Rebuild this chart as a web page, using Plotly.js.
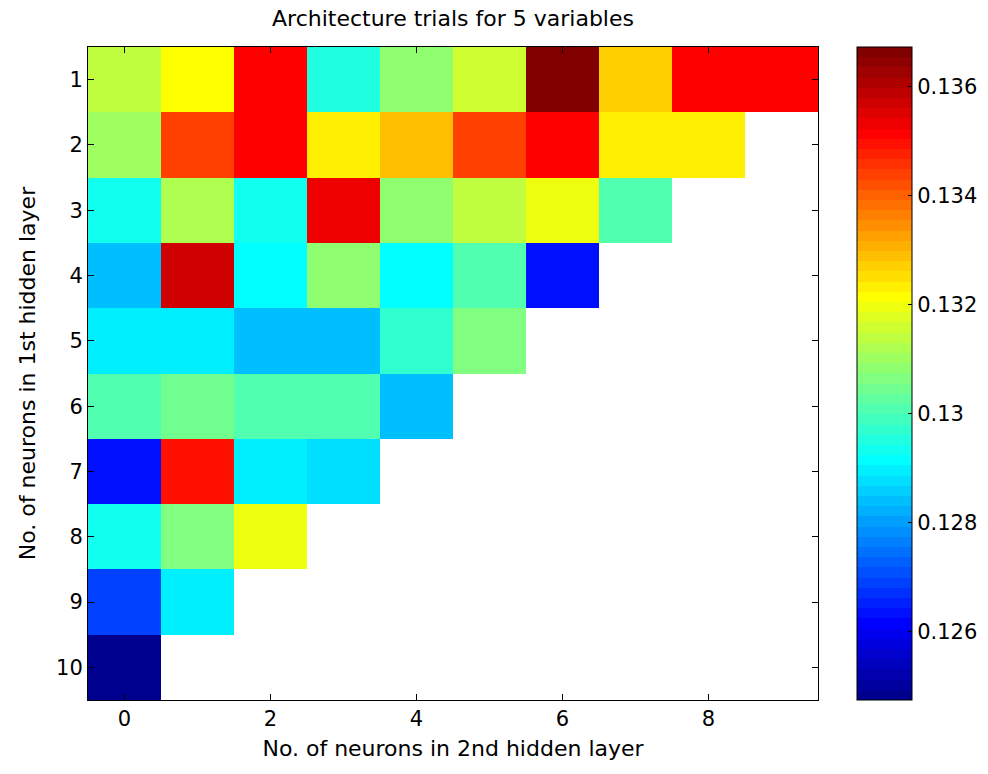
<!DOCTYPE html>
<html>
<head>
<meta charset="utf-8">
<script src="https://cdn.plot.ly/plotly-3.0.1.min.js"></script>
<style>html,body{margin:0;padding:0;background:#fff;}#chart{width:988px;height:774px;}</style>
</head>
<body>
<div id="chart"></div>
<script>
// Neurons in 2nd hidden layer (columns) and 1st hidden layer (rows)
var secondLayer = [0, 1, 2, 3, 4, 5, 6, 7, 8, 9];
var firstLayer = [1, 2, 3, 4, 5, 6, 7, 8, 9, 10];

// Error values per row (null = not tried)
var row1  = [0.13148, 0.13215, 0.13505, 0.12961, 0.13092, 0.13167, 0.13672, 0.13268, 0.13505, 0.13518];
var row2  = [0.13110, 0.13432, 0.13522, 0.13232, 0.13290, 0.13432, 0.13522, 0.13232, 0.13232, null];
var row3  = [0.12942, 0.13121, 0.12942, 0.13540, 0.13074, 0.13130, 0.13186, 0.13000, null, null];
var row4  = [0.12849, 0.13560, 0.12906, 0.13074, 0.12906, 0.13017, 0.12643, null, null, null];
var row5  = [0.12887, 0.12887, 0.12849, 0.12849, 0.12978, 0.13056, null, null, null, null];
var row6  = [0.13017, 0.13037, 0.13000, 0.13000, 0.12849, null, null, null, null, null];
var row7  = [0.12625, 0.13485, 0.12887, 0.12868, null, null, null, null, null, null];
var row8  = [0.12942, 0.13056, 0.13186, null, null, null, null, null, null, null];
var row9  = [0.12699, 0.12887, null, null, null, null, null, null, null, null];
var row10 = [0.12475, null, null, null, null, null, null, null, null, null];

var xTickVals = [0, 2, 4, 6, 8];
var xTickText = ['0', '2', '4', '6', '8'];
var yTickVals = [1, 2, 3, 4, 5, 6, 7, 8, 9, 10];
var yTickText = ['1', '2', '3', '4', '5', '6', '7', '8', '9', '10'];
var cbTickVals = [0.126, 0.128, 0.130, 0.132, 0.134, 0.136];
var cbTickText = ['0.126', '0.128', '0.13', '0.132', '0.134', '0.136'];

var z = [row1, row2, row3, row4, row5, row6, row7, row8, row9, row10];

// MATLAB jet(64) as a stepped colorscale
function jet64() {
  var n = 16, u = [];
  for (var k = 1; k <= n; k++) u.push(k / n);
  for (var k2 = 0; k2 < n - 1; k2++) u.push(1);
  for (var k3 = n; k3 >= 1; k3--) u.push(k3 / n);
  function at(idx) { var j = idx - 1; return (j >= 0 && j < u.length) ? u[j] : 0; }
  var scale = [];
  for (var i = 1; i <= 64; i++) {
    var r = at(i - 24), g = at(i - 8), b = at(i + 8);
    var c = 'rgb(' + Math.round(r * 255) + ',' + Math.round(g * 255) + ',' + Math.round(b * 255) + ')';
    scale.push([(i - 1) / 64, c]);
    scale.push([i / 64, c]);
  }
  return scale;
}

var fontFam = 'DejaVu Sans, Liberation Sans, Arial, sans-serif';

var trace = {
  type: 'heatmap',
  x: secondLayer,
  y: firstLayer,
  z: z,
  colorscale: jet64(),
  hoverongaps: false,
  xgap: 0, ygap: 0,
  colorbar: {
    thickness: 55,
    len: 1, lenmode: 'fraction',
    x: 1.0534, xanchor: 'left', xpad: 0,
    y: 0.5, yanchor: 'middle', ypad: 0,
    outlinewidth: 1, outlinecolor: '#000',
    ticks: 'inside', ticklen: 4, tickcolor: '#000',
    tickvals: cbTickVals, ticktext: cbTickText,
    tickfont: {family: fontFam, size: 21, color: '#000'}
  }
};

var layout = {
  width: 988, height: 774,
  margin: {l: 88, r: 170, t: 47, b: 74, pad: 0, autoexpand: false},
  paper_bgcolor: '#fff', plot_bgcolor: '#fff',
  font: {family: fontFam, color: '#000'},
  title: {text: 'Architecture trials for 5 variables', x: 0.5, xref: 'paper', y: 0.976, yanchor: 'middle',
          font: {family: fontFam, size: 22, color: '#000'}},
  xaxis: {
    range: [-0.5, 9.5], tickvals: xTickVals, ticktext: xTickText,
    ticks: 'inside', ticklen: 6, tickcolor: '#000', mirror: 'ticks',
    showline: true, linecolor: '#000', linewidth: 1, showgrid: false, zeroline: false,
    tickfont: {family: fontFam, size: 21, color: '#000'},
    title: {text: 'No. of neurons in 2nd hidden layer', font: {family: fontFam, size: 22, color: '#000'}, standoff: 10}
  },
  yaxis: {
    range: [10.5, 0.5], tickvals: yTickVals, ticktext: yTickText,
    ticks: 'inside', ticklen: 6, tickcolor: '#000', mirror: 'ticks',
    showline: true, linecolor: '#000', linewidth: 1, showgrid: false, zeroline: false,
    tickfont: {family: fontFam, size: 21, color: '#000'},
    title: {text: 'No. of neurons in 1st hidden layer', font: {family: fontFam, size: 22, color: '#000'}, standoff: 14}
  }
};

Plotly.newPlot('chart', [trace], layout, {displayModeBar: false, staticPlot: true});
</script>
</body>
</html>
